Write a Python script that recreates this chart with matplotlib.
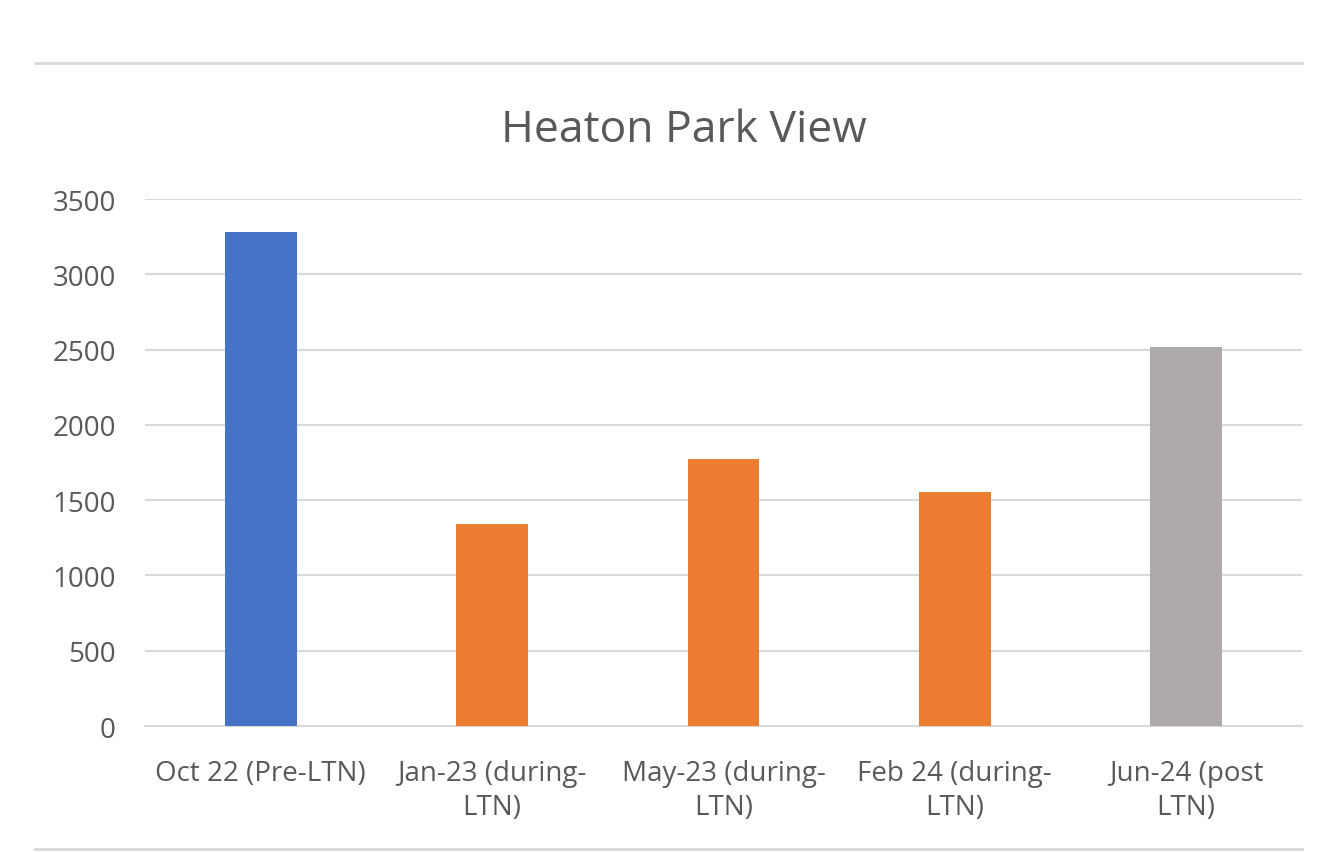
import matplotlib.pyplot as plt
from matplotlib.lines import Line2D

plt.rcParams["font.family"] = ["Open Sans", "DejaVu Sans"]

categories = [
    "Oct 22 (Pre-LTN)",
    "Jan-23 (during-\nLTN)",
    "May-23 (during-\nLTN)",
    "Feb 24 (during-\nLTN)",
    "Jun-24 (post\nLTN)",
]
counts = [3280, 1340, 1775, 1555, 2515]
colours = ["#4472C4", "#ED7D31", "#ED7D31", "#ED7D31", "#AEAAAA"]
yticks = [0, 500, 1000, 1500, 2000, 2500, 3000, 3500]

text_grey = "#595959"
grid_grey = "#d9d9d9"

fig = plt.figure(figsize=(13.36, 8.53), dpi=100)
ax = fig.add_axes([0.1085, 0.1477, 0.866, 0.6178])

x = list(range(len(categories)))
ax.bar(x, counts, width=0.31, color=colours, zorder=3)

ax.set_xlim(-0.5, len(categories) - 0.5)
ax.set_ylim(0, 3500)
ax.set_yticks(yticks)
ax.set_xticks(x)
ax.set_xticklabels(categories, fontsize=20, color=text_grey, linespacing=1.27)
ax.tick_params(axis="y", labelsize=20, colors=text_grey, length=0, pad=21)
ax.tick_params(axis="x", length=0, pad=24)

ax.grid(axis="y", color=grid_grey, linewidth=1.5, zorder=0)
for side in ["top", "right", "left"]:
    ax.spines[side].set_visible(False)
ax.spines["bottom"].set_color(grid_grey)
ax.spines["bottom"].set_linewidth(1.5)

fig.text(0.512, 1 - 131 / 853, "Heaton Park View", ha="center", va="center",
         fontsize=32, color=text_grey)

# frame lines above and below the chart
for yy in [1 - 64 / 853, 1 - 850 / 853]:
    fig.add_artist(Line2D([35 / 1336, 1302 / 1336], [yy, yy],
                          color=grid_grey, linewidth=2))

fig.savefig("out.png", dpi=100, facecolor="white")
